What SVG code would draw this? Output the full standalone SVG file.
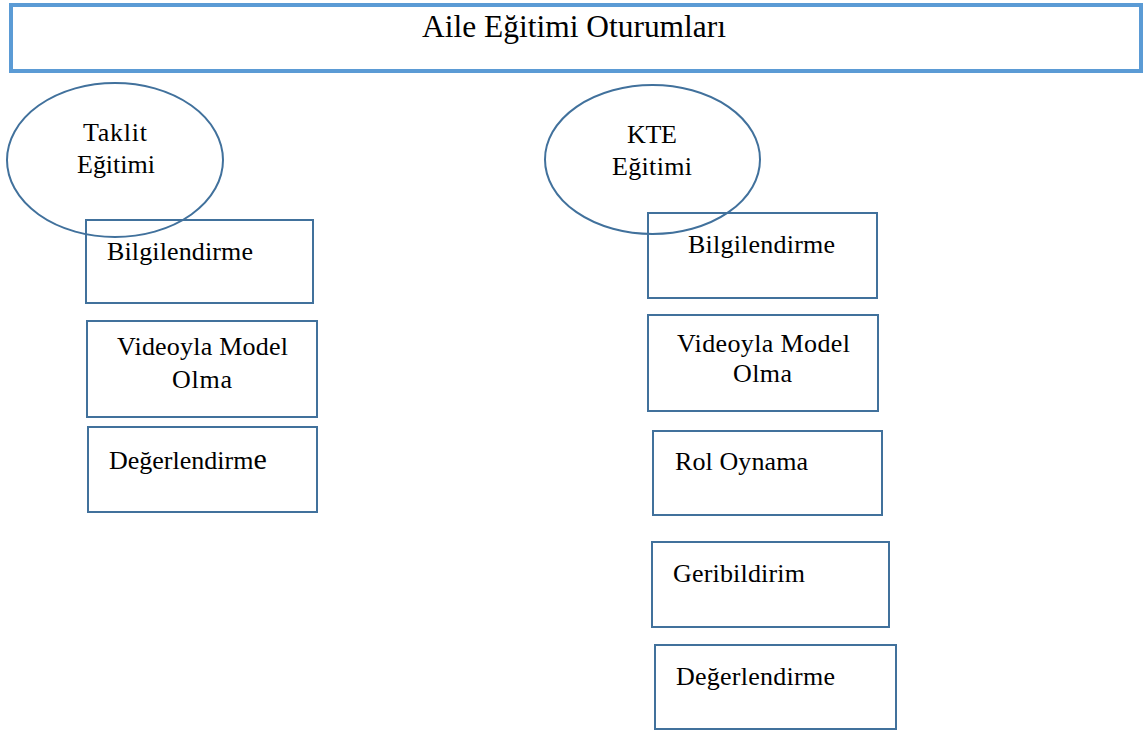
<svg xmlns="http://www.w3.org/2000/svg" width="1143" height="731" viewBox="0 0 1143 731">
<style>
.hdr{fill:#fff;stroke:#5B9BD5;stroke-width:4}
.box{fill:none;stroke:#41719C;stroke-width:2}
.ell{fill:none;stroke:#41719C;stroke-width:2}
text{font-family:"Liberation Serif","Times New Roman",serif;fill:#000;font-size:26px}
.t{font-size:31.5px}
</style>
<rect x="0" y="0" width="1143" height="731" fill="#fff"/>
<g id="header">
<rect class="hdr" x="11" y="5" width="1130" height="66"/>
<text class="t" x="422" y="37" textLength="304" lengthAdjust="spacingAndGlyphs">Aile Eğitimi Oturumları</text>
</g>
<g id="taklit">
<ellipse class="ell" cx="115" cy="160" rx="108" ry="77"/>
<text x="83" y="141" textLength="64">Taklit</text>
<text x="77" y="173" textLength="78">Eğitimi</text>
</g>
<g id="kte">
<ellipse class="ell" cx="652.5" cy="159.5" rx="107.5" ry="74.5"/>
<text x="627" y="143" textLength="50">KTE</text>
<text x="612" y="175" textLength="80">Eğitimi</text>
</g>
<g id="l-bilgi">
<rect class="box" x="86" y="220" width="227" height="83"/>
<text x="107" y="260" textLength="146">Bilgilendirme</text>
</g>
<g id="l-video">
<rect class="box" x="87" y="321" width="230" height="96"/>
<text x="117" y="355" textLength="171">Videoyla Model</text>
<text x="172" y="388" textLength="60">Olma</text>
</g>
<g id="l-deger">
<rect class="box" x="88" y="427" width="229" height="85"/>
<text x="109" y="469">Değerlendirm<tspan font-size="30">e</tspan></text>
</g>
<g id="r-bilgi">
<rect class="box" x="648" y="213" width="229" height="85"/>
<text x="688" y="253" textLength="147">Bilgilendirme</text>
</g>
<g id="r-video">
<rect class="box" x="648" y="315" width="230" height="96"/>
<text x="677" y="352" textLength="173">Videoyla Model</text>
<text x="733" y="382" textLength="59">Olma</text>
</g>
<g id="r-rol">
<rect class="box" x="653" y="431" width="229" height="84"/>
<text x="675" y="470" textLength="133">Rol Oynama</text>
</g>
<g id="r-geri">
<rect class="box" x="652" y="542" width="237" height="85"/>
<text x="673" y="582" textLength="132">Geribildirim</text>
</g>
<g id="r-deger">
<rect class="box" x="655" y="645" width="241" height="84"/>
<text x="676" y="685" textLength="159">Değerlendirme</text>
</g>
<g id="connectors"></g>
</svg>
